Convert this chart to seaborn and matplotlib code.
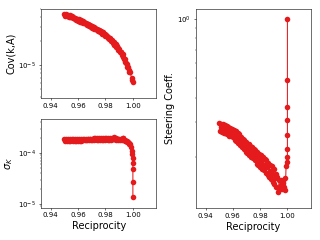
import matplotlib
matplotlib.use('Agg')
import matplotlib.pyplot as plt
from matplotlib.ticker import NullFormatter
import seaborn as sns
import pandas as pd

# reciprocity grid shared by the dense part of all three curves
recip_main = [0.950, 0.951, 0.952, 0.953, 0.954, 0.955, 0.956, 0.957, 0.958, 0.959,
              0.960, 0.961, 0.962, 0.963, 0.964, 0.965, 0.966, 0.967, 0.968, 0.969,
              0.970, 0.971, 0.972, 0.973, 0.974, 0.975, 0.976, 0.977, 0.978, 0.979,
              0.980, 0.981, 0.982, 0.983, 0.984, 0.985, 0.986, 0.987, 0.988, 0.989,
              0.990, 0.991, 0.992, 0.993, 0.994, 0.995, 0.996, 0.997, 0.998]
# in-between runs (points only)
recip_extra = [0.9505, 0.9515, 0.9525, 0.9535, 0.9545, 0.9555, 0.9565, 0.9575, 0.9585, 0.9595,
               0.9605, 0.9615, 0.9625, 0.9635, 0.9645, 0.9655, 0.9665, 0.9675, 0.9685, 0.9695,
               0.9705, 0.9715, 0.9725, 0.9735, 0.9745, 0.9755, 0.9765, 0.9775, 0.9785, 0.9795,
               0.9805, 0.9815, 0.9825, 0.9835, 0.9845, 0.9855, 0.9865, 0.9875, 0.9885, 0.9895,
               0.9905, 0.9915, 0.9925, 0.9935, 0.9945, 0.9955, 0.9965, 0.9975]

# Cov(k,A)
cov_main = [4.36e-5, 4.20e-5, 4.05e-5, 4.10e-5, 4.15e-5, 4.00e-5, 3.84e-5, 3.88e-5, 3.90e-5, 3.72e-5,
            3.56e-5, 3.59e-5, 3.62e-5, 3.47e-5, 3.32e-5, 3.35e-5, 3.36e-5, 3.21e-5, 3.06e-5, 3.07e-5,
            3.08e-5, 2.94e-5, 2.81e-5, 2.82e-5, 2.83e-5, 2.70e-5, 2.56e-5, 2.57e-5, 2.56e-5, 2.44e-5,
            2.31e-5, 2.29e-5, 2.27e-5, 2.13e-5, 2.01e-5, 1.98e-5, 1.94e-5, 1.81e-5, 1.68e-5, 1.64e-5,
            1.59e-5, 1.46e-5, 1.34e-5, 1.28e-5, 1.20e-5, 1.06e-5, 0.95e-5, 0.88e-5, 0.81e-5]
cov_extra = [4.12e-5, 4.28e-5, 4.23e-5, 3.97e-5, 3.92e-5, 4.07e-5, 4.01e-5, 3.74e-5, 3.67e-5, 3.78e-5,
             3.71e-5, 3.47e-5, 3.41e-5, 3.53e-5, 3.46e-5, 3.23e-5, 3.16e-5, 3.25e-5, 3.18e-5, 2.96e-5,
             2.90e-5, 2.98e-5, 2.92e-5, 2.72e-5, 2.66e-5, 2.73e-5, 2.67e-5, 2.47e-5, 2.41e-5, 2.47e-5,
             2.39e-5, 2.19e-5, 2.12e-5, 2.15e-5, 2.07e-5, 1.89e-5, 1.80e-5, 1.81e-5, 1.72e-5, 1.56e-5,
             1.47e-5, 1.45e-5, 1.36e-5, 1.19e-5, 1.09e-5, 1.04e-5, 0.95e-5, 0.81e-5]
recip_cov_tail = [0.999, 0.9995, 1.000]
cov_tail = [0.70e-5, 0.65e-5, 0.61e-5]

# sigma_K
sigma_main = [1.85e-4, 1.78e-4, 1.72e-4, 1.79e-4, 1.86e-4, 1.80e-4, 1.73e-4, 1.80e-4, 1.88e-4, 1.81e-4,
              1.74e-4, 1.82e-4, 1.89e-4, 1.82e-4, 1.76e-4, 1.83e-4, 1.90e-4, 1.84e-4, 1.77e-4, 1.84e-4,
              1.92e-4, 1.85e-4, 1.78e-4, 1.86e-4, 1.93e-4, 1.86e-4, 1.80e-4, 1.87e-4, 1.94e-4, 1.88e-4,
              1.81e-4, 1.88e-4, 1.97e-4, 1.89e-4, 1.82e-4, 1.90e-4, 2.05e-4, 1.88e-4, 1.80e-4, 1.87e-4,
              1.92e-4, 1.84e-4, 1.76e-4, 2.00e-4, 1.78e-4, 1.70e-4, 1.66e-4, 1.60e-4, 1.52e-4]
sigma_extra = [1.71e-4, 1.86e-4, 1.86e-4, 1.72e-4, 1.72e-4, 1.87e-4, 1.87e-4, 1.73e-4, 1.74e-4, 1.88e-4,
               1.89e-4, 1.75e-4, 1.75e-4, 1.90e-4, 1.90e-4, 1.76e-4, 1.76e-4, 1.91e-4, 1.92e-4, 1.77e-4,
               1.78e-4, 1.93e-4, 1.93e-4, 1.79e-4, 1.79e-4, 1.94e-4, 1.94e-4, 1.80e-4, 1.80e-4, 1.96e-4,
               1.96e-4, 1.81e-4, 1.81e-4, 1.97e-4, 1.97e-4, 1.86e-4, 1.90e-4, 1.94e-4, 1.92e-4, 1.82e-4,
               1.80e-4, 1.87e-4, 1.95e-4, 1.83e-4, 1.70e-4, 1.72e-4, 1.66e-4, 1.53e-4]
recip_sigma_tail = [0.9985, 0.999, 0.9995, 0.9998, 1.000, 1.000, 1.000, 1.000]
sigma_tail = [1.30e-4, 1.10e-4, 0.95e-4, 0.80e-4, 0.65e-4, 0.48e-4, 0.27e-4, 0.14e-4]

# steering coefficient
steer_main = [0.299, 0.284, 0.269, 0.280, 0.291, 0.276, 0.262, 0.271, 0.282, 0.267,
              0.252, 0.261, 0.270, 0.253, 0.237, 0.245, 0.254, 0.237, 0.220, 0.229,
              0.239, 0.222, 0.205, 0.215, 0.225, 0.209, 0.194, 0.202, 0.213, 0.196,
              0.179, 0.190, 0.201, 0.184, 0.167, 0.178, 0.188, 0.171, 0.155, 0.165,
              0.175, 0.157, 0.141, 0.133, 0.153, 0.145, 0.139, 0.148, 0.158]
steer_extra = [0.272, 0.296, 0.294, 0.266, 0.265, 0.287, 0.285, 0.257, 0.255, 0.279,
               0.276, 0.246, 0.242, 0.264, 0.261, 0.230, 0.226, 0.248, 0.244, 0.213,
               0.210, 0.233, 0.229, 0.201, 0.198, 0.220, 0.218, 0.186, 0.184, 0.208,
               0.205, 0.175, 0.172, 0.196, 0.193, 0.162, 0.159, 0.183, 0.180, 0.150,
               0.147, 0.165, 0.160, 0.139, 0.138, 0.153, 0.154, 0.142]
recip_steer_tail = [0.9985, 0.999, 0.9995, 1.000, 1.000, 1.000, 1.000, 1.000, 1.000, 1.000]
steer_tail = [0.137, 0.180, 0.200, 0.190, 0.220, 0.260, 0.310, 0.360, 0.490, 1.000]

red = '#e41a1c'

panels = [
    (recip_main + recip_cov_tail, cov_main + cov_tail, cov_extra),
    (recip_main + recip_sigma_tail, sigma_main + sigma_tail, sigma_extra),
    (recip_main + recip_steer_tail, steer_main + steer_tail, steer_extra),
]

fig = plt.figure(figsize=(6.4, 4.8), dpi=50)
ax1 = fig.add_axes([0.128, 0.5917, 0.361, 0.371])
ax2 = fig.add_axes([0.128, 0.1354, 0.361, 0.369])
ax3 = fig.add_axes([0.6125, 0.1333, 0.359, 0.829])

for ax, (xs, ys, extra) in zip([ax1, ax2, ax3], panels):
    df = pd.DataFrame({'Reciprocity': xs, 'val': ys})
    ex = pd.DataFrame({'Reciprocity': recip_extra, 'val': extra})
    sns.lineplot(data=df, x='Reciprocity', y='val', ax=ax, sort=False, estimator=None,
                 color=red, linewidth=1.5)
    sns.scatterplot(data=ex, x='Reciprocity', y='val', ax=ax, color=red, s=64,
                    linewidth=0, zorder=3)
    sns.scatterplot(data=df, x='Reciprocity', y='val', ax=ax, color=red, s=64,
                    linewidth=0, zorder=3)
    ax.set_yscale('log')
    ax.set_xlim(0.933, 1.0172)
    ax.set_xticks([0.94, 0.96, 0.98, 1.00])
    ax.tick_params(labelsize=10)
    ax.yaxis.set_minor_formatter(NullFormatter())

ax1.set_ylim(3.9e-6, 5e-5)
ax2.set_ylim(8.6e-6, 4.64e-4)
ax3.set_ylim(0.111, 1.12)

ax1.set_xlabel('')
ax1.set_ylabel('Cov(k,A)', fontsize=14)
ax2.set_xlabel('Reciprocity', fontsize=14)
ax2.set_ylabel(r'$\sigma_K$', fontsize=14)
ax3.set_xlabel('Reciprocity', fontsize=14)
ax3.set_ylabel('Steering Coeff.', fontsize=14)

fig.savefig('out.png', dpi=50)
